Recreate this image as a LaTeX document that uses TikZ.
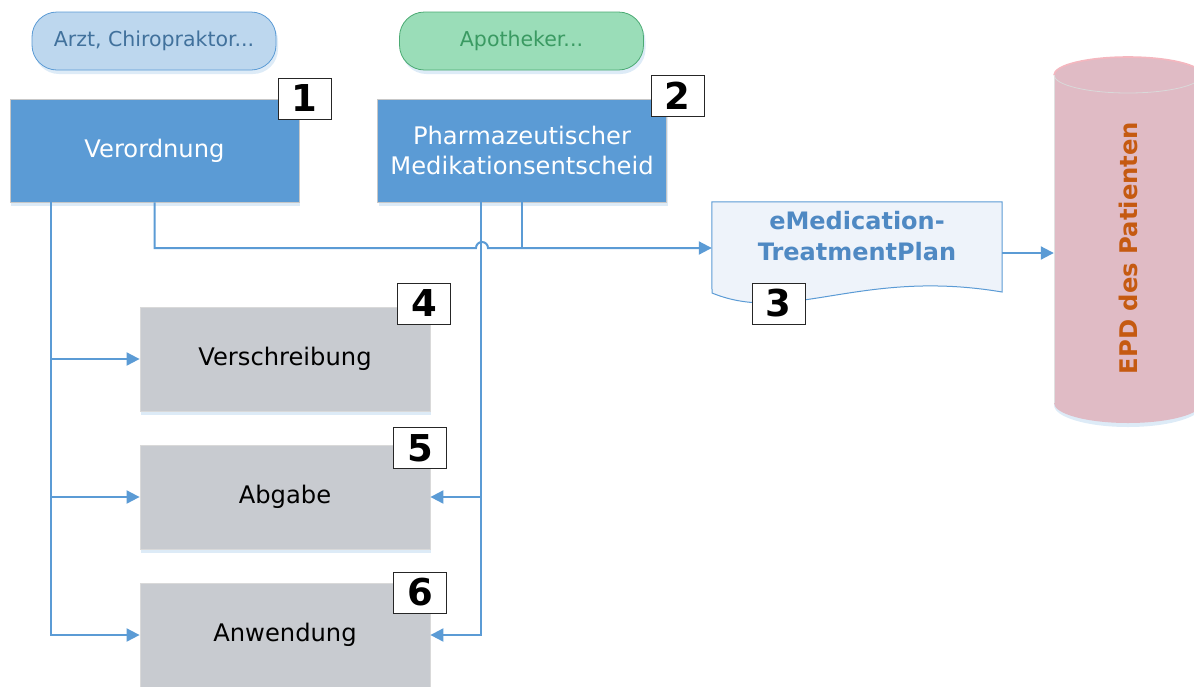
\documentclass[tikz,border=0pt]{standalone}
\usepackage{fontspec}
\setmainfont{DejaVu Sans}
\usetikzlibrary{arrows.meta,shadows,calc}
\definecolor{mainblue}{HTML}{5B9BD5}
\definecolor{linkblue}{HTML}{5B9BD5}
\definecolor{shadowblue}{HTML}{DDEBF7}
\definecolor{pillblue}{HTML}{BDD7EE}
\definecolor{pillbluetext}{HTML}{41719C}
\definecolor{pillgreen}{HTML}{9ADDB8}
\definecolor{pillgreenline}{HTML}{4BAA73}
\definecolor{pillgreentext}{HTML}{3A9A62}
\definecolor{boxgrey}{HTML}{C8CBD0}
\definecolor{docfill}{HTML}{EEF3FA}
\definecolor{doctext}{HTML}{4F89C3}
\definecolor{cylfill}{HTML}{E0BBC5}
\definecolor{cylrim}{HTML}{F4B7BF}
\definecolor{epdtext}{HTML}{C55A11}
\begin{document}
\begin{tikzpicture}[x=1pt,y=-1pt,
  pill/.style={rounded corners=25pt, minimum width=244pt, minimum height=58pt, inner sep=0pt,
    font=\fontsize{20.5}{24}\selectfont, line width=0.8pt,
    drop shadow={shadow xshift=2pt, shadow yshift=-4pt, fill=shadowblue, opacity=1}},
  bluebox/.style={fill=mainblue, draw=black!22, line width=0.8pt, text=white,
    minimum width=289pt, minimum height=103pt, inner sep=0pt, align=center,
    font=\fontsize{24.2}{30}\selectfont,
    drop shadow={shadow xshift=1pt, shadow yshift=-4pt, fill=shadowblue, opacity=1}},
  greybox/.style={fill=boxgrey, draw=black!15, line width=0.8pt, text=black,
    minimum width=290pt, minimum height=104pt, inner sep=0pt,
    font=\fontsize{24.2}{28}\selectfont,
    drop shadow={shadow xshift=1pt, shadow yshift=-4pt, fill=shadowblue, opacity=1}},
  numbox/.style={draw=black!85, fill=white, line width=1pt, minimum width=53pt,
    minimum height=41pt, inner sep=0pt, font=\fontsize{37}{37}\selectfont\bfseries},
  link/.style={draw=linkblue, line width=2pt},
  arrowlink/.style={link, -{Triangle[length=13pt,width=13pt]}}
]
\useasboundingbox (0,0) rectangle (1194,686);
\clip (0,0) rectangle (1194,686);

% pills
\node[pill, fill=pillblue, draw=mainblue, text=pillbluetext] (arzt) at (154,41) {Arzt, Chiropraktor...};
\node[pill, fill=pillgreen, draw=pillgreenline, text=pillgreentext] (apo) at (521.5,41) {Apotheker...};

% main boxes
\node[bluebox] (ver) at (154.5,150.5) {Verordnung};
\node[bluebox] (pharm) at (522,150.5) {Pharmazeutischer\\Medikationsentscheid};

\node[greybox] (versch) at (285,359) {Verschreibung};
\node[greybox] (abg) at (285,497) {Abgabe};
\node[greybox] (anw) at (285,635) {Anwendung};

% document shape
\node[minimum width=290pt, minimum height=92pt, inner sep=0pt] (doc) at (857,248) {};
\path[fill=docfill, draw=mainblue, line width=1pt]
  (doc.north west) -- (doc.north east) -- (1002,292)
  .. controls (860,268) and (790,325) .. (712,293) -- cycle;
\node[text=doctext, align=center, font=\fontsize{24}{31}\selectfont\bfseries] (doctxt) at (857,236)
  {eMedication-\\TreatmentPlan};

% cylinder
\node[minimum width=148pt, minimum height=366pt, inner sep=0pt] (epdbox) at (1128,240) {};
\path[fill=shadowblue] (1054,405) arc[start angle=180,end angle=360,x radius=74pt,y radius=22pt] -- (1202,400) -- (1054,400) -- cycle;
\path[fill=cylfill] (1054,75) -- (1054,403)
  arc[start angle=180,end angle=360,x radius=74pt,y radius=20pt] -- (1202,75)
  arc[start angle=0,end angle=180,x radius=74pt,y radius=18pt] -- cycle;
\draw[cylrim, line width=1.6pt] (1054,75) arc[start angle=180,end angle=0,x radius=74pt,y radius=18pt];
\draw[black!15, line width=0.8pt] (1054,75) arc[start angle=180,end angle=360,x radius=74pt,y radius=18pt];
\draw[black!12, line width=0.6pt] (1054,75) -- (1054,403);
\node[rotate=90, text=epdtext, font=\fontsize{24.3}{24.3}\selectfont\bfseries] (epd) at (1128,248) {EPD des Patienten};

% connectors from Verordnung
\draw[arrowlink] ([xshift=41pt]ver.south west) |- (versch.west);
\draw[arrowlink] ([xshift=41pt]ver.south west) |- (abg.west);
\draw[arrowlink] ([xshift=41pt]ver.south west) |- (anw.west);

% connectors from Pharmazeutischer Medikationsentscheid
\draw[arrowlink] ([xshift=104pt]pharm.south west) |- (abg.east);
\draw[arrowlink] ([xshift=104pt]pharm.south west) |- (anw.east);

% to document, with line jump
\coordinate (hopA) at (476,248);
\draw[arrowlink] (ver.south) |- (hopA) arc[start angle=180,end angle=0,radius=6pt] -- (doc.west);
\draw[link] (pharm.south) -- (pharm.south |- doc.west);

% document to EPD
\coordinate (dr) at ($(doc.east)+(0,5)$);
\draw[arrowlink] (dr) -- (dr -| epdbox.west);

% number boxes
\node[numbox] (n1) at (304.5,98.5) {1};
\node[numbox] (n2) at (677.5,95.5) {2};
\node[numbox] (n3) at (778.5,303.5) {3};
\node[numbox] (n4) at (424,303.5) {4};
\node[numbox] (n5) at (420,448) {5};
\node[numbox] (n6) at (420,592.5) {6};
\end{tikzpicture}
\end{document}
